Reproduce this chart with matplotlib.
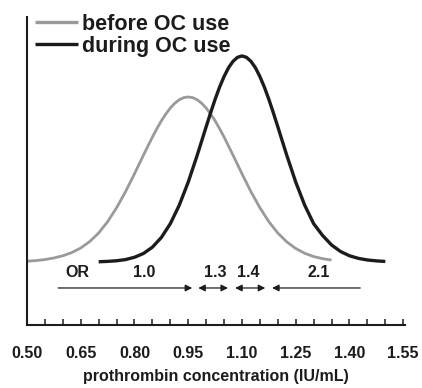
import matplotlib
matplotlib.use("Agg")
import matplotlib.pyplot as plt
from matplotlib.ticker import MultipleLocator, FixedLocator

plt.rcParams['font.family'] = ['Liberation Sans', 'DejaVu Sans']

# Prothrombin concentration (IU/mL) and relative frequency, before OC use
x_before = [0.500, 0.525, 0.550, 0.575, 0.600, 0.625, 0.650, 0.675, 0.700,
            0.725, 0.750, 0.775, 0.800, 0.825, 0.850, 0.8625, 0.875, 0.8875,
            0.900, 0.9125, 0.925, 0.9375, 0.950, 0.9625, 0.975, 0.9875,
            1.000, 1.0125, 1.025, 1.0375, 1.050, 1.075, 1.100, 1.125, 1.150,
            1.175, 1.200, 1.225, 1.250, 1.275, 1.300, 1.325, 1.350]
y_before = [0.008, 0.014, 0.024, 0.040, 0.062, 0.094, 0.140, 0.204, 0.290,
            0.403, 0.542, 0.703, 0.882, 1.068, 1.249, 1.333, 1.411, 1.480,
            1.539, 1.587, 1.622, 1.643, 1.650, 1.643, 1.622, 1.587,
            1.539, 1.480, 1.411, 1.333, 1.249, 1.068, 0.882, 0.703, 0.542,
            0.403, 0.289, 0.201, 0.135, 0.087, 0.054, 0.033, 0.019]

# ... and during OC use
x_during = [0.700, 0.725, 0.750, 0.775, 0.800, 0.825, 0.850, 0.875, 0.900,
            0.925, 0.950, 0.975, 0.9875, 1.000, 1.0125, 1.025, 1.0375, 1.050,
            1.0625, 1.075, 1.0875, 1.100, 1.1125, 1.125, 1.1375, 1.150,
            1.1625, 1.175, 1.1875, 1.200, 1.2125, 1.225, 1.250, 1.275, 1.300,
            1.325, 1.350, 1.375, 1.400, 1.425, 1.450, 1.475, 1.500]
y_during = [0.002, 0.006, 0.012, 0.024, 0.047, 0.085, 0.148, 0.245, 0.383,
            0.568, 0.799, 1.067, 1.209, 1.352, 1.492, 1.626, 1.748, 1.854,
            1.942, 2.006, 2.046, 2.060, 2.046, 2.006, 1.942, 1.854,
            1.748, 1.626, 1.492, 1.352, 1.209, 1.067, 0.799, 0.568, 0.383,
            0.265, 0.170, 0.105, 0.062, 0.036, 0.020, 0.011, 0.005]

series_labels = ["before OC use", "during OC use"]

# Odds-ratio bands along the concentration axis
or_labels = ["OR", "1.0", "1.3", "1.4", "2.1"]
or_label_x = [0.640, 0.827, 1.025, 1.117, 1.313]
band_starts = [0.587, 0.978, 1.081, 1.430]
band_ends = [0.961, 1.061, 1.165, 1.184]
band_styles = ["-|>", "<|-|>", "<|-|>", "-|>"]

tick_labels = ["0.50", "0.65", "0.80", "0.95", "1.10", "1.25", "1.40", "1.55"]
tick_values = [float(t) for t in tick_labels]

fig = plt.figure(figsize=(4.22, 3.88), dpi=100)
ax = fig.add_axes([0.064, 0.1624, 0.8957, 0.794])

gray = "#9a9a9a"
dark = "#1c1c1c"
ax.plot(x_before, y_before, color=gray, lw=2.0, solid_capstyle='butt',
        solid_joinstyle='round', label=series_labels[0])
ax.plot(x_during, y_during, color=dark, lw=2.4, solid_capstyle='butt',
        solid_joinstyle='round', label=series_labels[1])

ax.set_xlim(0.50, 1.555)
ax.set_ylim(-0.63, 2.45)

for lab, xv in zip(or_labels, or_label_x):
    ax.text(xv, -0.11, lab, ha='center', va='center', fontsize=11.5,
            fontweight='bold', color=dark)

for xs, xe, st in zip(band_starts, band_ends, band_styles):
    ax.annotate("", xy=(xe, -0.26), xytext=(xs, -0.26),
                arrowprops=dict(arrowstyle=st, color=dark, lw=0.9,
                                mutation_scale=10, shrinkA=0, shrinkB=0))

for s in ["top", "right"]:
    ax.spines[s].set_visible(False)
for s in ["left", "bottom"]:
    ax.spines[s].set_linewidth(1.5)
    ax.spines[s].set_color(dark)

ax.set_yticks([])
ax.xaxis.set_major_locator(FixedLocator(tick_values))
ax.set_xticklabels(tick_labels)
ax.xaxis.set_minor_locator(MultipleLocator(0.05))
ax.tick_params(axis='x', which='both', direction='in', length=4, width=1.1,
               color=dark, pad=15)
ax.tick_params(axis='x', which='major', labelsize=11.5, labelcolor=dark)
for t in ax.get_xticklabels():
    t.set_fontweight('bold')

ax.set_xlabel("prothrombin concentration (IU/mL)", fontsize=11.5,
              fontweight='bold', color=dark, labelpad=6)

leg = ax.legend(loc='upper left', bbox_to_anchor=(0.02, 1.01), frameon=False,
                prop=dict(size=15.5, weight='bold'), handlelength=2.0,
                handletextpad=0.2, labelspacing=0.05, borderaxespad=0,
                borderpad=0)
for t in leg.get_texts():
    t.set_color(dark)
for h in leg.get_lines():
    h.set_linewidth(2.4)

fig.savefig("out.png", dpi=100)
